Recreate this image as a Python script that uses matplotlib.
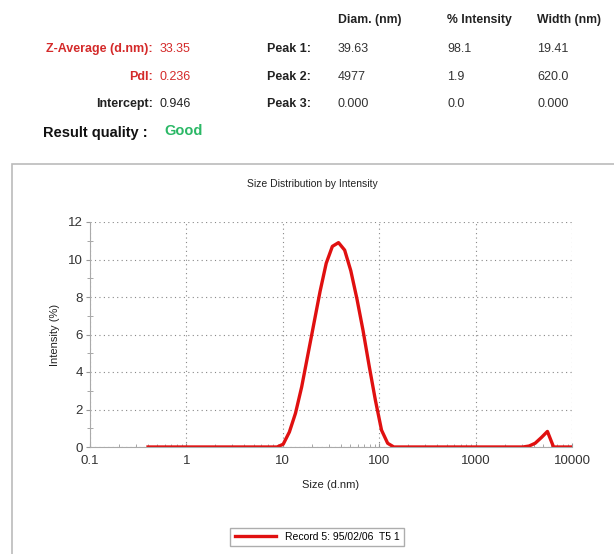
import matplotlib
matplotlib.use("Agg")
from matplotlib import pyplot as plt
from matplotlib.patches import Rectangle
from matplotlib.ticker import FixedLocator, NullFormatter

plt.rcParams['font.family'] = ['Liberation Sans', 'DejaVu Sans']

# size bins (d.nm) and intensity (%)
sizes = [0.4, 8.721, 10.1, 11.7, 13.54, 15.69, 18.17, 21.04, 24.36, 28.21,
         32.67, 37.84, 43.82, 50.75, 58.77, 68.06, 78.82, 91.28, 105.7,
         122.4, 141.8, 3091, 3580, 4145, 4801, 5560, 6439, 10000]
intensity = [0, 0, 0.15, 0.8, 1.8, 3.2, 4.9, 6.6, 8.3, 9.8,
             10.7, 10.9, 10.5, 9.4, 7.9, 6.2, 4.3, 2.5, 0.9,
             0.2, 0, 0, 0.05, 0.2, 0.5, 0.83, 0, 0]

x_ticks = [0.1, 1, 10, 100, 1000, 10000]
x_labels = ["0.1", "1", "10", "100", "1000", "10000"]
y_ticks = [0, 2, 4, 6, 8, 10, 12]

left_labels = ["Z-Average (d.nm):", "PdI:", "Intercept:"]
left_values = ["33.35", "0.236", "0.946"]
left_colors = ["#d42a2a", "#d42a2a", "#222222"]

peak_names = ["Peak 1:", "Peak 2:", "Peak 3:"]
peak_diam = ["39.63", "4977", "0.000"]
peak_int = ["98.1", "1.9", "0.0"]
peak_width = ["19.41", "620.0", "0.000"]
headers = ["Diam. (nm)", "% Intensity", "Width (nm)"]

W, H = 614, 554
fig = plt.figure(figsize=(W / 100, H / 100), dpi=100)


def ftext(px, py, s, **kw):
    fig.text(px / W, 1 - py / H, s, va='center', **kw)


# header block
for hx, h in zip([338, 447, 537], headers):
    ftext(hx, 20, h, fontsize=8.8, fontweight='bold', color='#222222')
rows_y = [49, 77, 104]
for i, y in enumerate(rows_y):
    ftext(153, y, left_labels[i], ha='right', fontsize=9, fontweight='bold', color=left_colors[i])
    ftext(160, y, left_values[i], fontsize=9, color=left_colors[i])
    ftext(311, y, peak_names[i], ha='right', fontsize=9, fontweight='bold', color='#222222')
    ftext(338, y, peak_diam[i], fontsize=9, color='#333333')
    ftext(447, y, peak_int[i], fontsize=9, color='#333333')
    ftext(537, y, peak_width[i], fontsize=9, color='#333333')
ftext(148, 133, "Result quality :", ha='right', fontsize=10.5, fontweight='bold', color='#111111')
ftext(164, 131, "Good", fontsize=10.5, fontweight='bold', color='#2bb866')

# frame around the graph (runs off the right and bottom edges)
fig.patches.append(Rectangle((12 / W, -0.05), 1.0, 1 - 164 / H + 0.05, transform=fig.transFigure,
                             fill=False, edgecolor='#bbbbbb', linewidth=1.2))
ftext(312, 184, "Size Distribution by Intensity", ha='center', fontsize=7.5, color='#222222')

ax = fig.add_axes([90 / W, 1 - 447 / H, (572 - 90) / W, (447 - 222) / H])
line, = ax.plot(sizes, intensity, color='#e01010', linewidth=2.4, solid_joinstyle='round',
                label="Record 5: 95/02/06  T5 1")
ax.set_xscale('log')
ax.set_xlim(0.1, 10000)
ax.set_ylim(0, 12)
ax.set_xticks(x_ticks)
ax.set_xticklabels(x_labels)
ax.xaxis.set_minor_formatter(NullFormatter())
ax.set_yticks(y_ticks)
ax.yaxis.set_minor_locator(FixedLocator([1, 3, 5, 7, 9, 11]))
ax.tick_params(which='both', color='#999999', labelsize=9.5, labelcolor='#333333')
ax.tick_params(axis='y', which='major', direction='out', length=3, pad=2)
ax.tick_params(axis='y', which='minor', direction='inout', length=4)
ax.tick_params(axis='x', which='major', direction='in', length=3, pad=6)
ax.tick_params(axis='x', which='minor', direction='in', length=2)
ax.grid(True, which='major', linestyle=(0, (1, 3)), color='#888888', linewidth=0.8)
for s in ['top', 'right']:
    ax.spines[s].set_visible(False)
for s in ['left', 'bottom']:
    ax.spines[s].set_color('#aaaaaa')
ax.set_xlabel("Size (d.nm)", fontsize=8, labelpad=9, color='#222222')
ax.set_ylabel("Intensity (%)", fontsize=8, labelpad=6, color='#222222')

fig.legend(handles=[line], loc='center', bbox_to_anchor=(317 / W, 1 - 537 / H),
           fontsize=7.5, frameon=True, fancybox=False, edgecolor='#999999',
           handlelength=4, borderpad=0.4)

fig.savefig("out.png", dpi=100)
